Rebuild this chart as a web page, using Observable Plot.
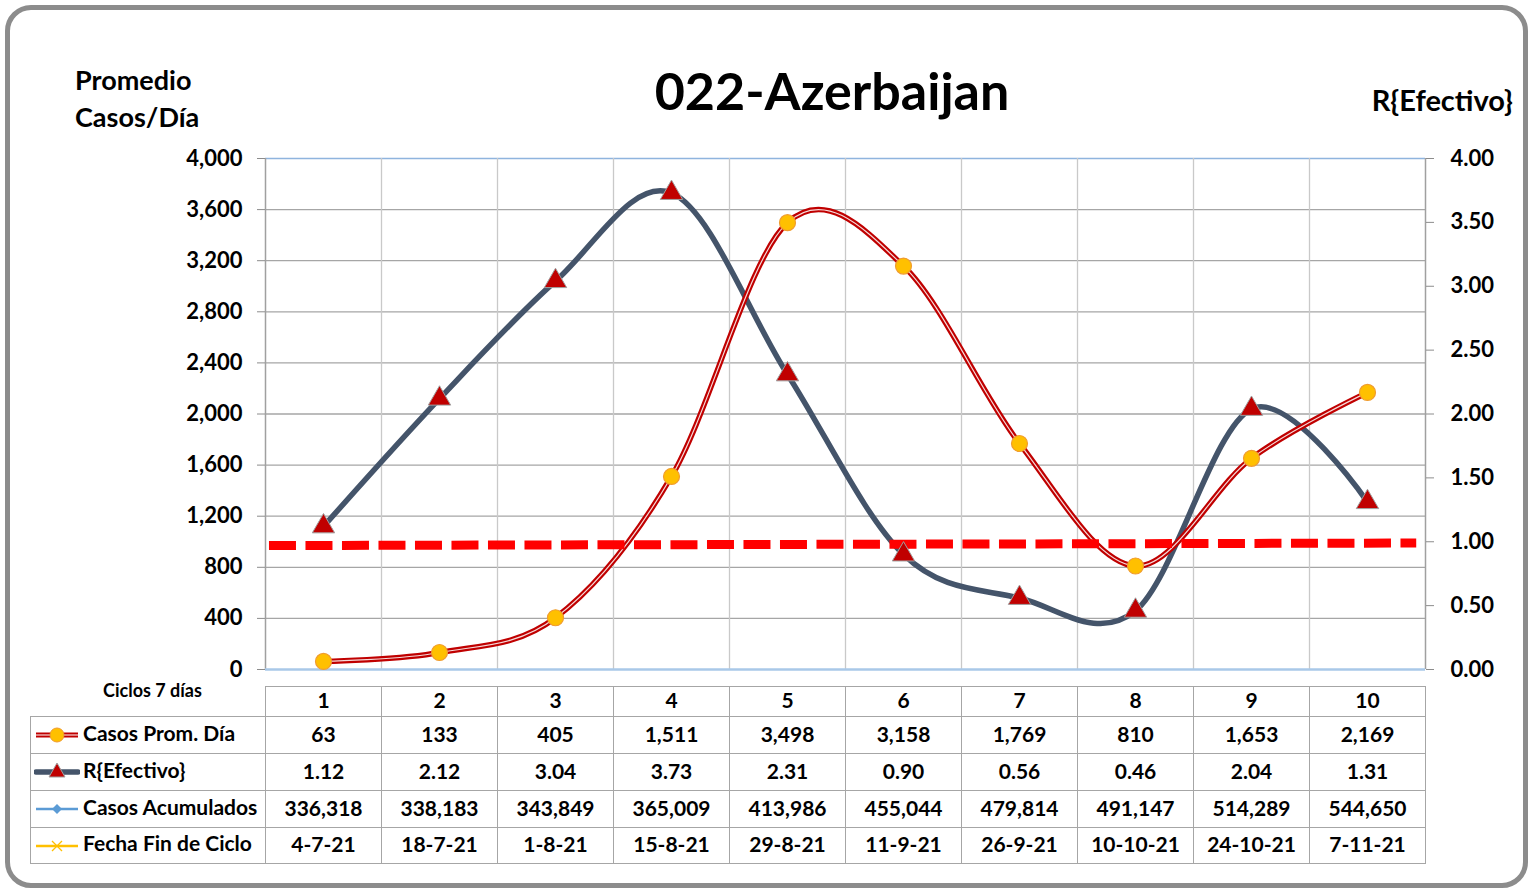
<!DOCTYPE html>
<html>
<head>
<meta charset="utf-8">
<script src="https://cdn.jsdelivr.net/npm/d3@7"></script>
<script src="https://cdn.jsdelivr.net/npm/@observablehq/plot@0.6"></script>
<style>
  html, body { margin: 0; padding: 0; background: #fff; }
  body { width: 1528px; height: 893px; overflow: hidden; position: relative; font-family: Lato, "Open Sans", sans-serif; color: #000; }
  #frame { position: absolute; left: 5px; top: 5px; width: 1513px; height: 873px; border: 5px solid #8c8c8c; border-radius: 26px; }
  .lbl { position: absolute; font-weight: bold; white-space: nowrap; }
  #title { left: 0; width: 1664px; text-align: center; top: 64px; font-size: 52px; line-height: 1; }
  #yl { left: 75px; top: 61px; font-size: 27px; line-height: 37px; }
  #yr { right: 15px; top: 85px; font-size: 29px; line-height: 1; }
  #ciclos { left: 103px; top: 681px; font-size: 18px; line-height: 1; z-index: 3; }
  #chart { position: absolute; left: 0; top: 140px; }
  #tbl { position: absolute; left: 30px; top: 686px; border-collapse: collapse; table-layout: fixed; font-size: 21px; font-weight: bold; z-index: 2; }
  #tbl td { border: 1px solid #a6a6a6; text-align: center; padding: 0 0 4px 0; white-space: nowrap; background: #fff; }
  #tbl td.lab { text-align: left; padding-left: 3px; }
  #tbl td.lab svg { vertical-align: middle; margin-right: 3px; }
  #tbl td.blank { border: none; background: transparent; }
</style>
</head>
<body>
<div id="frame"></div>
<div class="lbl" id="title">022-Azerbaijan</div>
<div class="lbl" id="yl">Promedio<br>Casos/Día</div>
<div class="lbl" id="yr">R{Efectivo}</div>
<div id="chart"></div>
<div class="lbl" id="ciclos">Ciclos 7 días</div>
<table id="tbl"></table>
<script>
// ---- data ----
const ciclos = [1, 2, 3, 4, 5, 6, 7, 8, 9, 10];
const casosPromDia = [63, 133, 405, 1511, 3498, 3158, 1769, 810, 1653, 2169];
const rEfectivo = [1.12, 2.12, 3.04, 3.73, 2.31, 0.90, 0.56, 0.46, 2.04, 1.31];
const casosAcumulados = [336318, 338183, 343849, 365009, 413986, 455044, 479814, 491147, 514289, 544650];
const fechaFinCiclo = ["4-7-21", "18-7-21", "1-8-21", "15-8-21", "29-8-21", "11-9-21", "26-9-21", "10-10-21", "24-10-21", "7-11-21"];
const umbralX = [0.53, 10.42];
const umbralR = [0.97, 0.99];
const leftTicks = [0, 400, 800, 1200, 1600, 2000, 2400, 2800, 3200, 3600, 4000];
const rightTicks = [0, 0.5, 1, 1.5, 2, 2.5, 3, 3.5, 4];
const seriesNames = ["Casos Prom. Día", "R{Efectivo}", "Casos Acumulados", "Fecha Fin de Ciclo"];

// ---- build tables for Plot ----
const RSCALE = 1000; // R axis 0..4 maps onto left axis 0..4000
const rows = ciclos.map((c, i) => ({ciclo: c, casos: casosPromDia[i], r: rEfectivo[i]}));
const umbral = umbralX.map((x, i) => ({x, y: umbralR[i] * RSCALE}));
const bounds = d3.range(1.5, 10.51, 1);

const chart = Plot.plot({
  width: 1528,
  height: 556,
  marginTop: 18,
  marginBottom: 27,
  marginLeft: 265,
  marginRight: 103,
  style: {fontFamily: "Lato, 'Open Sans', sans-serif", fontSize: "22px", fontWeight: "bold", color: "#000", background: "transparent"},
  x: {type: "linear", domain: [0.5, 10.5], axis: null},
  y: {domain: [0, 4000], axis: null},
  marks: [
    Plot.ruleY(leftTicks.filter(t => t > 0 && t < 4000), {stroke: "#a6a6a6", strokeWidth: 1.3, strokeOpacity: 1}),
    Plot.ruleY([4000], {stroke: "#8fb4de", strokeWidth: 1.5, strokeOpacity: 1}),
    Plot.ruleX(bounds.slice(0, -1), {stroke: "#c9c9c9", strokeWidth: 1.3, strokeOpacity: 1}),
    Plot.ruleX([0.5, 10.5], {stroke: "#a0a0a0", strokeWidth: 1.5, strokeOpacity: 1}),
    Plot.ruleY([0], {stroke: "#a9c8e8", strokeWidth: 2.5, strokeOpacity: 1}),
    Plot.axisY({anchor: "left", ticks: leftTicks, tickFormat: d3.format(","), tickSize: 8, tickPadding: 15, stroke: "#8c8c8c", fill: "#000", label: null}),
    Plot.axisY({anchor: "right", ticks: rightTicks.map(t => t * RSCALE), tickFormat: t => (t / RSCALE).toFixed(2), tickSize: 8, tickPadding: 17, stroke: "#8c8c8c", fill: "#000", label: null}),
    // R{Efectivo} line
    Plot.line(rows, {x: "ciclo", y: d => d.r * RSCALE, curve: "cardinal", stroke: "#44546a", strokeWidth: 5.5}),
    // Casos line (double red line)
    Plot.line(rows, {x: "ciclo", y: "casos", curve: "cardinal", stroke: "#c00000", strokeWidth: 5.5}),
    Plot.line(rows, {x: "ciclo", y: "casos", curve: "cardinal", stroke: "#ffffff", strokeWidth: 1.2, strokeOpacity: 0.85}),
    // threshold dashed line
    Plot.line(umbral, {x: "x", y: "y", stroke: "#ff0000", strokeWidth: 9, strokeDasharray: "27,9.5", strokeLinecap: "butt"}),
    // markers
    Plot.dot(rows, {x: "ciclo", y: "casos", r: 8, fill: "#ffc000", stroke: "#f09c30", strokeWidth: 1.2}),
    Plot.dot(rows, {x: "ciclo", y: d => d.r * RSCALE, symbol: "triangle", r: 8.3, fill: "#c00000", stroke: "#a0a0a0", strokeWidth: 1})
  ]
});
document.getElementById("chart").appendChild(chart);

// ---- data table ----
function icon(kind) {
  const w = 46, h = 22, cy = 11;
  let s = `<svg width="${w}" height="${h}" viewBox="0 0 ${w} ${h}">`;
  if (kind === 0) {
    s += `<line x1="2" x2="44" y1="${cy}" y2="${cy}" stroke="#c00000" stroke-width="5"/>`;
    s += `<line x1="2" x2="44" y1="${cy}" y2="${cy}" stroke="#fff" stroke-width="1.1"/>`;
    s += `<circle cx="23" cy="${cy}" r="7" fill="#ffc000" stroke="#f09c30"/>`;
  } else if (kind === 1) {
    s += `<line x1="2" x2="44" y1="${cy}" y2="${cy}" stroke="#44546a" stroke-width="5.5" stroke-linecap="round"/>`;
    s += `<path d="M23,${cy - 9} L31,${cy + 5} L15,${cy + 5} Z" fill="#c00000" stroke="#a0a0a0"/>`;
  } else if (kind === 2) {
    s += `<line x1="2" x2="44" y1="${cy}" y2="${cy}" stroke="#5b9bd5" stroke-width="2.5"/>`;
    s += `<path d="M23,${cy - 5} L28,${cy} L23,${cy + 5} L18,${cy} Z" fill="#5b9bd5"/>`;
  } else {
    s += `<line x1="2" x2="44" y1="${cy}" y2="${cy}" stroke="#ffc000" stroke-width="2.5"/>`;
    s += `<path d="M18,${cy - 5} L28,${cy + 5} M28,${cy - 5} L18,${cy + 5}" stroke="#ffc000" stroke-width="1.3"/>`;
  }
  return s + `</svg>`;
}
const tbl = d3.select("#tbl");
const cg = tbl.append("colgroup");
cg.append("col").style("width", "235px");
ciclos.forEach(() => cg.append("col").style("width", "116px"));
const hdr = tbl.append("tr").style("height", "30px");
hdr.append("td").attr("class", "blank");
ciclos.forEach(c => hdr.append("td").text(c));
const fmtInt = d3.format(",");
const tableRows = [
  casosPromDia.map(v => fmtInt(v)),
  rEfectivo.map(v => v.toFixed(2)),
  casosAcumulados.map(v => fmtInt(v)),
  fechaFinCiclo
];
const rowHeights = [37, 37, 37, 36];
tableRows.forEach((vals, k) => {
  const tr = tbl.append("tr").style("height", rowHeights[k] + "px");
  tr.append("td").attr("class", "lab").html(icon(k) + seriesNames[k]);
  vals.forEach(v => tr.append("td").text(v));
});
</script>
</body>
</html>
